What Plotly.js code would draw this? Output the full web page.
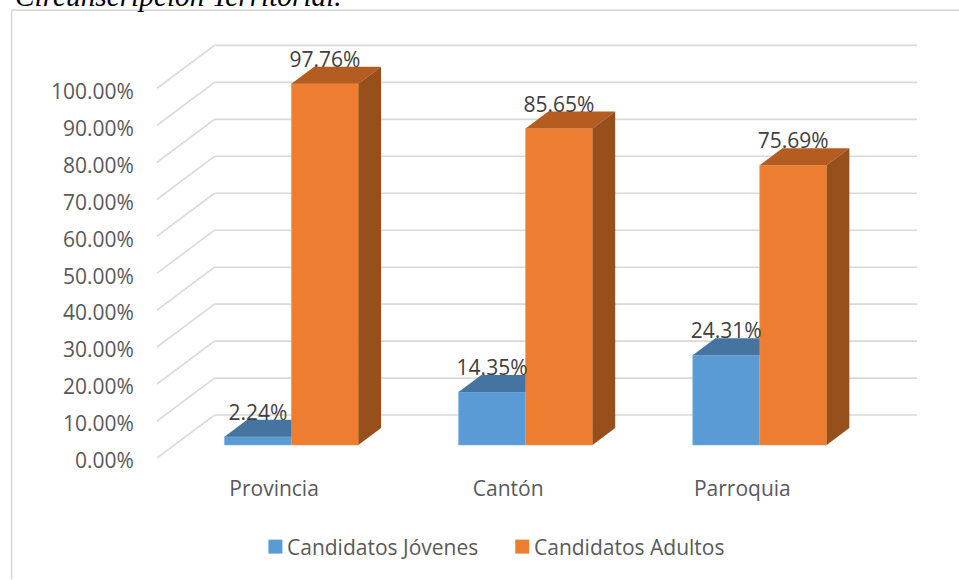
<!DOCTYPE html>
<html>
<head>
<meta charset="utf-8">
<script src="https://cdn.plot.ly/plotly-3.0.1.min.js"></script>
<style>html,body{margin:0;padding:0;background:#fff;overflow:hidden}#chart{width:959px;height:580px}</style>
</head>
<body>
<div id="chart"></div>
<script>
const categories = ["Provincia", "Cantón", "Parroquia"];
const jovenes = [2.24, 14.35, 24.31];
const adultos = [97.76, 85.65, 75.69];
const seriesNames = ["Candidatos Jóvenes", "Candidatos Adultos"];
const tickValues = [0, 10, 20, 30, 40, 50, 60, 70, 80, 90, 100];
const tickLabels = ["0.00%", "10.00%", "20.00%", "30.00%", "40.00%", "50.00%", "60.00%", "70.00%", "80.00%", "90.00%", "100.00%"];
const chartTitle = "Circunscripción Territorial.";

// Oblique projection of the 3-D chart box, in axis units
const W = 959, H = 580;
const plotL = 156.5, plotR = 917, plotT = 43.9, plotB = 458.3;
const xRange = [-0.5, 2.746], yRange = [0, 112];
const DX = 0.2454, DY = 11.62;       // full floor depth
const depthFront = 0.302, depthBack = 0.697;
const barW = 0.286;
const proj = (x, v, d) => [x + d * DX, v + d * DY];
const C = {blue:"#5B9BD5", blueEdge:"#7FB1DF", blueTop:"#44749F", orange:"#ED7D31", orangeEdge:"#F19A62", orangeTop:"#B55C20", orangeSide:"#974F1B", grid:"#D9D9D9", tick:"#595959", label:"#404040"};
const FONT = "'Open Sans', sans-serif";
const FS = 21;
const baseV = proj(0, 0, depthFront)[1];
const frontX = i => proj(i, 0, depthFront)[0];

const traces = [];
traces.push({type:"bar", name:seriesNames[0], x:categories.map((c,i)=>frontX(i)-barW/2), y:jovenes, base:jovenes.map(()=>baseV), width:barW, marker:{color:C.blue, line:{color:C.blueEdge, width:0.6}}, showlegend:false, hoverinfo:"skip"});
traces.push({type:"bar", name:seriesNames[1], x:categories.map((c,i)=>frontX(i)+barW/2), y:adultos, base:adultos.map(()=>baseV), width:barW, marker:{color:C.orange, line:{color:C.orangeEdge, width:0.6}}, showlegend:false, hoverinfo:"skip"});

function poly(points, color){
  traces.push({type:"scatter", mode:"lines", x:points.map(p=>p[0]).concat(points[0][0]), y:points.map(p=>p[1]).concat(points[0][1]), fill:"toself", fillcolor:color, line:{width:0, color:color}, showlegend:false, hoverinfo:"skip", cliponaxis:false});
}
const spanD = depthBack - depthFront;
categories.forEach((c,i)=>{
  const left = frontX(i) - barW, mid = frontX(i), right = frontX(i) + barW;
  const sx = spanD * DX, sy = spanD * DY;
  const hB = baseV + jovenes[i], hO = baseV + adultos[i];
  poly([[left,hB],[mid,hB],[mid,hB+sy],[left+sx,hB+sy]], C.blueTop);
  poly([[mid,hO],[right,hO],[right+sx,hO+sy],[mid+sx,hO+sy]], C.orangeTop);
  poly([[right,baseV],[right+sx,baseV+sy],[right+sx,hO+sy],[right,hO]], C.orangeSide);
});
const labelLift = 6.0;
const labelTrace = (vals, off) => ({type:"scatter", mode:"text", x:categories.map((c,i)=>frontX(i)+off), y:vals.map(v=>baseV+v+labelLift), text:vals.map(v=>v.toFixed(2)+"%"), textposition:"middle center", textfont:{family:FONT,size:FS,color:C.label}, showlegend:false, hoverinfo:"skip", cliponaxis:false});
traces.push(labelTrace(jovenes, -barW/2));
traces.push(labelTrace(adultos, barW/2));

const gridStyle = {color:C.grid, width:1.6};
const shapes = [];
tickValues.forEach(v=>{
  const s = proj(xRange[0], v, 0), e = proj(xRange[0], v, 1);
  shapes.push({type:"line", layer:"below", xref:"x", yref:"y", x0:s[0], y0:s[1], x1:e[0], y1:e[1], line:gridStyle});
  shapes.push({type:"line", layer:"below", xref:"x", yref:"y", x0:e[0], y0:e[1], x1:xRange[1], y1:e[1], line:gridStyle});
});
// chart frame (left and top edges run off the page)
const px = x => (x-plotL)/(plotR-plotL), py = y => (plotB-y)/(plotB-plotT);
shapes.push({type:"line", layer:"below", xref:"paper", yref:"paper", x0:px(11), y0:py(10), x1:px(959), y1:py(10), line:gridStyle});
shapes.push({type:"line", layer:"below", xref:"paper", yref:"paper", x0:px(11), y0:py(10), x1:px(11), y1:py(580), line:gridStyle});

// legend keys
const legendKeys = [{x:268, color:C.blue, name:seriesNames[0], tx:286}, {x:515, color:C.orange, name:seriesNames[1], tx:533}];
const annotations = [{text:"<i>"+chartTitle+"</i>", xref:"paper", yref:"paper", x:px(13), xanchor:"left", y:py(13), yanchor:"bottom", showarrow:false, font:{family:"'Liberation Serif', serif", size:29.3, color:"#000"}, borderpad:0}];
legendKeys.forEach(k=>{
  shapes.push({type:"rect", layer:"above", xref:"paper", yref:"paper", x0:px(k.x), x1:px(k.x+14), y0:py(540), y1:py(554), fillcolor:k.color, line:{width:0}});
  annotations.push({text:k.name, xref:"paper", yref:"paper", x:px(k.tx), xanchor:"left", y:py(547), yanchor:"middle", showarrow:false, font:{family:FONT,size:FS,color:C.tick}, borderpad:0});
});

const layout = {
  width:W, height:H, paper_bgcolor:"#fff", plot_bgcolor:"rgba(0,0,0,0)",
  margin:{l:plotL, r:W-plotR, t:plotT, b:H-plotB, pad:0, autoexpand:false},
  barmode:"overlay", showlegend:false, shapes:shapes, annotations:annotations,
  xaxis:{range:xRange, tickmode:"array", tickvals:[0,1,2], ticktext:categories, showgrid:false, zeroline:false, showline:false, ticks:"outside", ticklen:12, tickcolor:"rgba(0,0,0,0)", tickfont:{family:FONT,size:FS,color:C.tick}, fixedrange:true},
  yaxis:{range:yRange, tickmode:"array", tickvals:tickValues, ticktext:tickLabels, ticklabelshift:3, showgrid:false, zeroline:false, showline:false, ticks:"outside", ticklen:18, tickcolor:"rgba(0,0,0,0)", tickfont:{family:FONT,size:FS,color:C.tick}, fixedrange:true}
};
Plotly.newPlot("chart", traces, layout, {displayModeBar:false, staticPlot:true});
</script>
</body>
</html>
